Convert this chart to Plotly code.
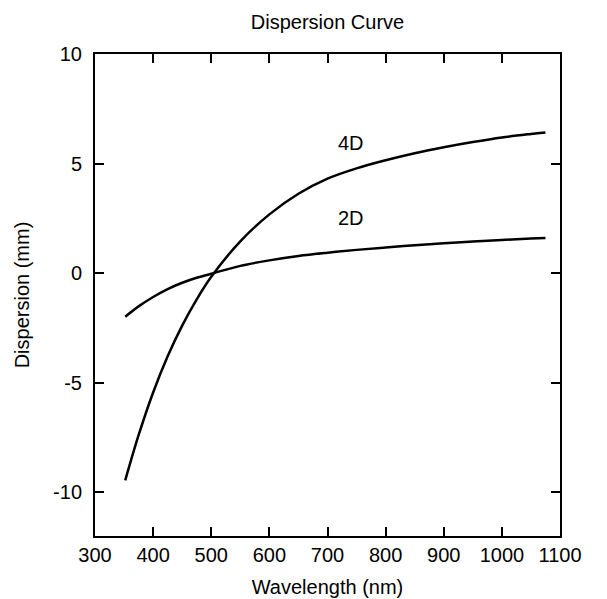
import plotly.graph_objects as go

# Data
wavelength = [352, 375, 400, 425, 450, 475, 500, 550, 600, 650, 700, 750, 800, 850, 900, 950, 1000, 1050, 1075]
disp_4d = [-9.46, -7.40, -5.45, -3.80, -2.40, -1.20, -0.17, 1.45, 2.68, 3.62, 4.31, 4.78, 5.15, 5.47, 5.74, 5.98, 6.19, 6.35, 6.42]
disp_2d = [-1.99, -1.52, -1.09, -0.73, -0.44, -0.21, -0.03, 0.33, 0.58, 0.78, 0.93, 1.06, 1.17, 1.27, 1.36, 1.44, 1.51, 1.575, 1.605]

x_ticks = [300, 400, 500, 600, 700, 800, 900, 1000, 1100]
y_ticks = [-10, -5, 0, 5, 10]
y_tick_text = ["-10", "-5", "0", "5", "10"]

labels = ["4D", "2D"]
label_x = [740, 740]
label_y = [5.96, 2.53]

FONT = "Liberation Sans, Arial, Helvetica, sans-serif"

fig = go.Figure()
fig.add_trace(go.Scatter(x=wavelength, y=disp_4d, mode="lines",
                         line=dict(color="black", width=2.5, shape="spline"),
                         name="4D", showlegend=False))
fig.add_trace(go.Scatter(x=wavelength, y=disp_2d, mode="lines",
                         line=dict(color="black", width=2.5, shape="spline"),
                         name="2D", showlegend=False))

for t, xx, yy in zip(labels, label_x, label_y):
    fig.add_annotation(x=xx, y=yy, text=t, showarrow=False,
                       font=dict(family=FONT, size=20, color="black"))

axis_common = dict(showline=True, linecolor="black", linewidth=2,
                   mirror="allticks", ticks="inside", ticklen=9, tickwidth=2,
                   tickcolor="black", showgrid=False, zeroline=False,
                   automargin=False,
                   tickfont=dict(family=FONT, size=20, color="black"))

fig.update_layout(
    width=607, height=599,
    margin=dict(l=87, r=55, t=46, b=71),
    paper_bgcolor="white", plot_bgcolor="white",
    title=dict(text="Dispersion Curve", xref="paper", x=0.5, xanchor="center",
               y=1 - 14 / 599, yanchor="middle",
               font=dict(family=FONT, size=20, color="black")),
    xaxis=dict(range=[300, 1100], tickvals=x_ticks,
               title=dict(text="Wavelength (nm)", standoff=15,
                          font=dict(family=FONT, size=20, color="black")),
               **axis_common),
    yaxis=dict(range=[-12, 10], tickvals=y_ticks, ticktext=y_tick_text,
               ticklabelstandoff=7,
               title=dict(text="Dispersion (mm)", standoff=18,
                          font=dict(family=FONT, size=20, color="black")),
               **axis_common),
)

fig.write_html("out.html")
